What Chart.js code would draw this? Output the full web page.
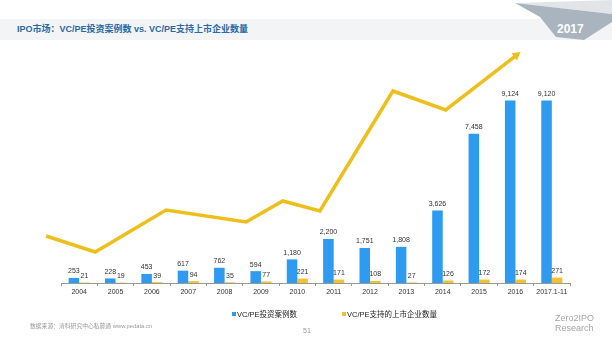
<!DOCTYPE html>
<html>
<head>
<meta charset="utf-8">
<script src="https://cdn.jsdelivr.net/npm/chart.js@4/dist/chart.umd.min.js"></script>
<style>
body{margin:0;width:612px;height:343px;overflow:hidden;background:#fff;position:relative;font-family:"Liberation Sans","Noto Sans CJK SC",sans-serif;}
#band{position:absolute;left:0;top:19px;width:612px;height:21px;background:#f3f4f5;}
#title{position:absolute;left:17px;top:22px;font-size:9px;font-weight:bold;color:#2a6aa8;white-space:nowrap;}
#corner{position:absolute;left:0;top:0;}
#year{position:absolute;left:557px;top:22px;font-size:12px;font-weight:bold;color:#fff;}
#wrap{position:absolute;left:0;top:0;width:612px;height:343px;}
.leg{position:absolute;top:308px;font-size:7.5px;color:#222;white-space:nowrap;}
.leg i{display:inline-block;width:4px;height:4px;margin-right:1px;vertical-align:1px;}
#source{position:absolute;left:30px;top:321px;font-size:5.8px;color:#999;}
#page{position:absolute;left:303px;top:327px;font-size:7px;color:#999;}
#brand{position:absolute;left:555px;top:313px;font-size:9px;line-height:10px;color:#a5a5a5;}
</style>
</head>
<body>
<div id="band"></div>
<svg id="corner" width="612" height="50">
  <polygon points="515,3 612,0 612,14" fill="#e2e5e8"/>
  <polygon points="515,3 612,14 612,22 584,40 556,37 540,17" fill="#a9b4be"/>
</svg>
<div id="title">IPO市场：VC/PE投资案例数 vs. VC/PE支持上市企业数量</div>
<div id="year">2017</div>
<div id="wrap"><canvas id="chart"></canvas></div>
<div class="leg" style="left:232px"><i style="background:#2e9bf0"></i>VC/PE投资案例数</div>
<div class="leg" style="left:342px"><i style="background:#f2c12e"></i>VC/PE支持的上市企业数量</div>
<div id="source">数据来源：清科研究中心私募通 www.pedata.cn</div>
<div id="page">51</div>
<div id="brand">Zero2IPO<br>Research</div>
<script>
const years = ['2004','2005','2006','2007','2008','2009','2010','2011','2012','2013','2014','2015','2016','2017.1-11'];
const vcpeDeals = [253, 228, 453, 617, 762, 594, 1180, 2200, 1751, 1808, 3626, 7458, 9124, 9120];
const vcpeIpos = [21, 19, 39, 94, 35, 77, 221, 171, 108, 27, 126, 172, 174, 271];
// decorative trend arrow: x in category positions, y in bar units
const trendX = [-0.91, 0.44, 2.39, 4.59, 5.60, 6.62, 8.63, 10.08, 12.14];
const trendY = [2350, 1550, 3650, 3050, 4100, 3600, 9600, 8650, 11550];

const blue = '#2e9bf0';
const gold = '#f2c12e';
const arrowColor = '#eebf1c';

const barLabels = {
    id: 'barLabels',
    afterDatasetsDraw(chart) {
        const ctx = chart.ctx;
        ctx.save();
        ctx.font = '7px "Liberation Sans", sans-serif';
        ctx.fillStyle = '#333';
        ctx.textAlign = 'center';
        ctx.textBaseline = 'bottom';
        [0, 1].forEach(i => {
            chart.getDatasetMeta(i).data.forEach((bar, j) => {
                const v = chart.data.datasets[i].data[j];
                ctx.fillText(v.toLocaleString('en-US'), bar.x, bar.y - 3);
            });
        });
        ctx.restore();
    }
};

// the arrow is drawn here instead of as a line dataset,
// a second x axis throws off the grouped bar widths
const trendArrow = {
    id: 'trendArrow',
    afterDatasetsDraw(chart) {
        const xs = chart.scales.x, ys = chart.scales.y;
        const pts = trendX.map((v, i) => [xs.getPixelForValue(v), ys.getPixelForValue(trendY[i])]);
        const n = pts.length;
        const tip = pts[n - 1], prev = pts[n - 2];
        const len = Math.hypot(tip[0] - prev[0], tip[1] - prev[1]);
        const ux = (tip[0] - prev[0]) / len, uy = (tip[1] - prev[1]) / len;
        const head = 8, half = 4.5;
        const ctx = chart.ctx;
        ctx.save();
        ctx.strokeStyle = arrowColor;
        ctx.fillStyle = arrowColor;
        ctx.lineWidth = 3.5;
        ctx.lineJoin = 'miter';
        ctx.beginPath();
        pts.forEach((p, i) => {
            if (i === n - 1) ctx.lineTo(p[0] - ux * (head - 1), p[1] - uy * (head - 1));
            else if (i === 0) ctx.moveTo(p[0], p[1]);
            else ctx.lineTo(p[0], p[1]);
        });
        ctx.stroke();
        const bx = tip[0] - ux * head, by = tip[1] - uy * head;
        ctx.beginPath();
        ctx.moveTo(tip[0], tip[1]);
        ctx.lineTo(bx - uy * half, by + ux * half);
        ctx.lineTo(bx + uy * half, by - ux * half);
        ctx.closePath();
        ctx.fill();
        ctx.restore();
    }
};

new Chart(document.getElementById('chart'), {
    type: 'bar',
    data: {
        labels: years,
        datasets: [
            {
                label: 'VC/PE投资案例数',
                data: vcpeDeals,
                backgroundColor: blue,
                categoryPercentage: 0.58,
                barPercentage: 1.0
            },
            {
                label: 'VC/PE支持的上市企业数量',
                data: vcpeIpos,
                backgroundColor: gold,
                categoryPercentage: 0.58,
                barPercentage: 1.0
            }
        ]
    },
    options: {
        responsive: true,
        maintainAspectRatio: false,
        animation: false,
        events: [],
        layout: {padding: {left: 61, right: 42, top: 43, bottom: 44}},
        plugins: {legend: {display: false}, tooltip: {enabled: false}},
        scales: {
            x: {
                offset: true,
                grid: {display: true, offset: true, drawOnChartArea: false, tickLength: 3, color: '#999'},
                border: {color: '#999'},
                ticks: {font: {size: 7, family: '"Liberation Sans", sans-serif'}, color: '#333', padding: 2,
                        maxRotation: 0, minRotation: 0, autoSkip: false},
                afterFit: s => { s.height = 16; }
            },
            y: {display: false, min: 0, max: 12000}
        }
    },
    plugins: [barLabels, trendArrow]
});
</script>
</body>
</html>
